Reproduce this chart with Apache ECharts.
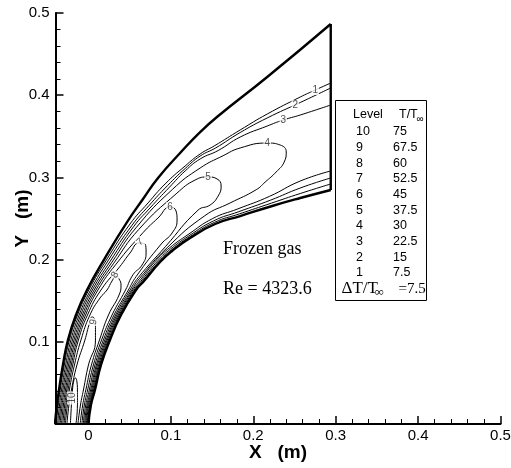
<!DOCTYPE html>
<html>
<head>
<meta charset="utf-8">
<script src="https://cdn.jsdelivr.net/npm/echarts@6/dist/echarts.min.js"></script>
<style>
html, body { margin: 0; padding: 0; background: #fff; }
#main { width: 511px; height: 468px; }
</style>
</head>
<body>
<div id="main"></div>
<script>
// geometry, x / y in metres
var shock = [[-0.0407,0],[-0.0383,0.0231],[-0.0358,0.0414],[-0.0310,0.0718],[-0.0249,0.1022],[-0.0152,0.1326],[-0.0018,0.1630],[0.0200,0.2019],[0.0468,0.2457],[0.0662,0.2737],[0.0844,0.2993],[0.1112,0.3297],[0.1355,0.3552],[0.1574,0.3747],[0.2169,0.4221],[0.294,0.4866]];
var body = [[0,0],[0.0030,0.0231],[0.0079,0.0414],[0.0152,0.0718],[0.0261,0.1022],[0.0395,0.1326],[0.0577,0.1630],[0.0674,0.1740],[0.0869,0.1971],[0.1015,0.2105],[0.1233,0.2263],[0.1537,0.2433],[0.1841,0.2530],[0.2230,0.2652],[0.2570,0.2749],[0.294,0.2847]];
var outlet = [[0.294,0.2847],[0.294,0.4866]];

// contour lines, shock side and body side legs
var level1Shock = [[0.294,0.4148],[0.2752,0.4063],[0.2570,0.3978],[0.2169,0.3771],[0.1841,0.3577],[0.1525,0.3382],[0.1355,0.3285],[0.1173,0.3139],[0.0930,0.2920],[0.0723,0.2689],[0.0504,0.2433],[0.0225,0.2007],[0.0004,0.1630],[-0.0132,0.1326],[-0.0231,0.1022],[-0.0293,0.0718],[-0.0343,0.0414],[-0.0367,0.0231],[-0.0391,0]];
var level2Shock = [[0.294,0.4088],[0.2570,0.3911],[0.2169,0.3723],[0.1841,0.3546],[0.1543,0.3358],[0.1355,0.3260],[0.1173,0.3108],[0.0959,0.2900],[0.0735,0.2658],[0.0529,0.2418],[0.0243,0.1994],[0.0026,0.1630],[-0.0113,0.1326],[-0.0213,0.1022],[-0.0276,0.0718],[-0.0327,0.0414],[-0.0351,0.0231],[-0.0375,0]];
var level3Shock = [[0.294,0.3881],[0.2570,0.3759],[0.2363,0.3698],[0.2169,0.3625],[0.1841,0.3491],[0.1574,0.3327],[0.1355,0.3224],[0.1173,0.3078],[0.0983,0.2881],[0.0747,0.2628],[0.0550,0.2404],[0.0265,0.1982],[0.0047,0.1630],[-0.0094,0.1326],[-0.0194,0.1022],[-0.0259,0.0718],[-0.0311,0.0414],[-0.0335,0.0231],[-0.0360,0]];
var level1Body = [[-0.0007,0],[0.0023,0.0231],[0.0070,0.0414],[0.0143,0.0718],[0.0252,0.1022],[0.0385,0.1326],[0.0566,0.1630],[0.0662,0.1747],[0.0859,0.1982],[0.1006,0.2117],[0.1226,0.2275],[0.1529,0.2453],[0.1832,0.2556],[0.2220,0.2687],[0.2570,0.2804],[0.294,0.2920]];
var level2Body = [[-0.0016,0],[0.0015,0.0231],[0.0062,0.0414],[0.0134,0.0718],[0.0241,0.1022],[0.0373,0.1326],[0.0554,0.1630],[0.0650,0.1753],[0.0848,0.1993],[0.0996,0.2129],[0.1218,0.2288],[0.1520,0.2472],[0.1824,0.2583],[0.2209,0.2723],[0.2570,0.2871],[0.294,0.2993]];
var level3Body = [[-0.0026,0],[0.0005,0.0231],[0.0051,0.0414],[0.0123,0.0718],[0.0228,0.1022],[0.0360,0.1326],[0.0539,0.1630],[0.0637,0.1762],[0.0836,0.2007],[0.0985,0.2144],[0.1208,0.2304],[0.1508,0.2500],[0.1813,0.2617],[0.2196,0.2769],[0.2570,0.2956],[0.294,0.3078]];
var level4 = [[-0.0344,0],[-0.0320,0.0231],[-0.0295,0.0414],[-0.0242,0.0718],[-0.0176,0.1022],[-0.0074,0.1326],[0.0069,0.1630],[0.0286,0.1970],[0.0577,0.2387],[0.1018,0.2853],[0.1355,0.3114],[0.1634,0.3264],[0.1841,0.3358],[0.2169,0.3418],[0.2327,0.3394],[0.2400,0.3309],[0.2375,0.3187],[0.2278,0.3066],[0.2145,0.2944],[0.2035,0.2850],[0.1719,0.2689],[0.1412,0.2534],[0.0954,0.2144],[0.0620,0.1771],[0.0524,0.1630],[0.0345,0.1326],[0.0215,0.1022],[0.0109,0.0718],[0.0039,0.0414],[-0.0006,0.0231],[-0.0036,0]];
var level5 = [[-0.0328,0],[-0.0304,0.0231],[-0.0279,0.0414],[-0.0225,0.0718],[-0.0158,0.1022],[-0.0055,0.1326],[0.0091,0.1630],[0.0307,0.1956],[0.0610,0.2366],[0.1073,0.2808],[0.1294,0.2968],[0.1452,0.3005],[0.1561,0.2981],[0.1610,0.2895],[0.1574,0.2774],[0.1476,0.2664],[0.1329,0.2601],[0.0933,0.2157],[0.0604,0.1781],[0.0505,0.1630],[0.0329,0.1326],[0.0199,0.1022],[0.0096,0.0718],[0.0026,0.0414],[-0.0018,0.0231],[-0.0049,0]];
var level6 = [[-0.0312,0],[-0.0288,0.0231],[-0.0264,0.0414],[-0.0208,0.0718],[-0.0140,0.1022],[-0.0035,0.1326],[0.0115,0.1630],[0.0333,0.1942],[0.0665,0.2331],[0.0844,0.2506],[0.0990,0.2640],[0.1063,0.2591],[0.1075,0.2482],[0.1015,0.2324],[0.0883,0.2190],[0.0580,0.1796],[0.0484,0.1630],[0.0310,0.1326],[0.0181,0.1022],[0.0079,0.0718],[0.0010,0.0414],[-0.0033,0.0231],[-0.0063,0]];
var level7 = [[-0.0296,0],[-0.0272,0.0231],[-0.0248,0.0414],[-0.0191,0.0718],[-0.0122,0.1022],[-0.0012,0.1326],[0.0152,0.1630],[0.0380,0.1914],[0.0504,0.2080],[0.0614,0.2202],[0.0687,0.2190],[0.0699,0.2080],[0.0650,0.1934],[0.0542,0.1818],[0.0450,0.1630],[0.0286,0.1326],[0.0159,0.1022],[0.0060,0.0718],[-0.0010,0.0414],[-0.0050,0.0231],[-0.0080,0]];
var level8 = [[-0.0281,0],[-0.0256,0.0231],[-0.0232,0.0414],[-0.0170,0.0718],[-0.0091,0.1022],[0.0018,0.1326],[0.0140,0.1533],[0.0225,0.1630],[0.0286,0.1740],[0.0334,0.1800],[0.0371,0.1764],[0.0395,0.1691],[0.0371,0.1569],[0.0243,0.1326],[0.0134,0.1022],[0.0036,0.0718],[-0.0032,0.0414],[-0.0070,0.0231],[-0.0101,0]];
var level9 = [[-0.0261,0],[-0.0237,0.0231],[-0.0207,0.0414],[-0.0140,0.0718],[-0.0043,0.1022],[0.0006,0.1204],[0.0043,0.1302],[0.0067,0.1290],[0.0085,0.1204],[0.0085,0.1022],[0.0000,0.0718],[-0.0061,0.0414],[-0.0097,0.0231],[-0.0128,0]];
var level10 = [[-0.0219,0],[-0.0207,0.0231],[-0.0194,0.0414],[-0.0176,0.0535],[-0.0158,0.0560],[-0.0140,0.0511],[-0.0134,0.0414],[-0.0134,0.0231],[-0.0152,0]];

// contour labels [x, y, text]
var contourLabels = [[0.2752,0.4063,'1'],[0.2509,0.3882,'2'],[0.2363,0.3698,'3'],[0.2169,0.3418,'4'],[0.1452,0.3005,'5'],[0.0990,0.2640,'6'],[0.0626,0.2214,'7'],[0.0322,0.1813,'8'],[0.0061,0.1241,'9'],[-0.0200,0.0316,'10']];
var labelAngles = [0, 0, 0, 0, 0, 0, 40, 60, 80, 90];

// legend table
var levelNumbers = ['10','9','8','7','6','5','4','3','2','1'];
var levelValues = ['75','67.5','60','52.5','45','37.5','30','22.5','15','7.5'];
var deltaValue = '=7.5';

var sans = '"Liberation Sans", Arial, sans-serif';
var serif = '"Liberation Serif", "Times New Roman", serif';

var myChart = echarts.init(document.getElementById('main'));

function thinLine(data) {
    return {
        type: 'line', data: data, xAxisIndex: 0, yAxisIndex: 0,
        showSymbol: false, smooth: 0.5, silent: true,
        lineStyle: {color: '#000', width: 1}
    };
}
function thickLine(data, smooth) {
    return {
        type: 'line', data: data, xAxisIndex: 0, yAxisIndex: 0,
        showSymbol: false, smooth: smooth, silent: true, z: 3,
        lineStyle: {color: '#000', width: 2.4}
    };
}

var series = [
    thinLine(level1Shock), thinLine(level2Shock), thinLine(level3Shock),
    thinLine(level1Body), thinLine(level2Body), thinLine(level3Body),
    thinLine(level4), thinLine(level5), thinLine(level6), thinLine(level7),
    thinLine(level8), thinLine(level9), thinLine(level10),
    thickLine(shock, 0.5), thickLine(body, 0.5), thickLine(outlet, false)
];

series.push({
    type: 'scatter', xAxisIndex: 0, yAxisIndex: 0, z: 5, silent: true,
    symbolSize: 0, itemStyle: {color: 'rgba(0,0,0,0)'},
    data: contourLabels.map(function (d, i) {
        return {value: d, label: {rotate: labelAngles[i]}};
    }),
    label: {
        show: true, position: 'inside',
        formatter: function (p) { return p.value[2]; },
        fontFamily: sans, fontSize: 10, color: '#222',
        backgroundColor: '#fff', padding: [0, 1]
    }
});

// legend box
var graphics = [{
    type: 'rect', shape: {x: 335.5, y: 100.5, width: 91, height: 200},
    style: {fill: '#fff', stroke: '#000', lineWidth: 1}, z: 10
}, {
    type: 'text', x: 353, y: 115, z: 11,
    style: {text: 'Level', fontFamily: sans, fontSize: 12.5, fill: '#000', verticalAlign: 'middle'}
}, {
    type: 'text', x: 399, y: 115, z: 11,
    style: {text: 'T/T', fontFamily: sans, fontSize: 12.5, fill: '#000', verticalAlign: 'middle'}
}, {
    type: 'text', x: 416.5, y: 119, z: 11,
    style: {text: '\u221e', fontFamily: sans, fontSize: 10, fill: '#000', verticalAlign: 'middle'}
}];
levelNumbers.forEach(function (n, i) {
    var y = 131.7 + i * 15.7;
    graphics.push({type: 'text', x: 356, y: y, z: 11,
        style: {text: n, fontFamily: sans, fontSize: 12.5, fill: '#000', verticalAlign: 'middle'}});
    graphics.push({type: 'text', x: 393, y: y, z: 11,
        style: {text: levelValues[i], fontFamily: sans, fontSize: 12.5, fill: '#000', verticalAlign: 'middle'}});
});
graphics.push({type: 'text', x: 341.5, y: 289, z: 11,
    style: {text: '\u0394T/T', fontFamily: serif, fontSize: 17, fill: '#000', verticalAlign: 'middle'}});
graphics.push({type: 'text', x: 374.5, y: 293, z: 11,
    style: {text: '\u221e', fontFamily: serif, fontSize: 13, fill: '#000', verticalAlign: 'middle'}});
graphics.push({type: 'text', x: 398.5, y: 289, z: 11,
    style: {text: deltaValue, fontFamily: serif, fontSize: 15, fill: '#000', verticalAlign: 'middle'}});
graphics.push({type: 'text', x: 223, y: 249, z: 11,
    style: {text: 'Frozen gas', fontFamily: serif, fontSize: 18, fill: '#000', verticalAlign: 'middle'}});
graphics.push({type: 'text', x: 223, y: 289, z: 11,
    style: {text: 'Re = 4323.6', fontFamily: serif, fontSize: 18, fill: '#000', verticalAlign: 'middle'}});

var option = {
    animation: false,
    backgroundColor: '#fff',
    grid: [
        {left: 55.5, top: 13, width: 445, height: 411, containLabel: false, outerBoundsMode: 'none'},
        {left: 88.46, top: 13, width: 412.04, height: 411, containLabel: false, outerBoundsMode: 'none'}
    ],
    xAxis: [{
        gridIndex: 0, type: 'value', min: -0.04, max: 0.5,
        axisLine: {show: true, onZero: false, lineStyle: {color: '#000', width: 2}},
        axisTick: {show: false}, axisLabel: {show: false}, splitLine: {show: false},
        name: 'X   (m)', nameLocation: 'middle', nameGap: 19,
        nameTextStyle: {fontFamily: sans, fontSize: 19, fontWeight: 'bold', color: '#000'}
    }, {
        gridIndex: 1, type: 'value', min: 0, max: 0.5, interval: 0.1,
        axisLine: {show: false},
        axisTick: {show: true, inside: true, length: 8, lineStyle: {color: '#000', width: 1.5}},
        minorTick: {show: true, splitNumber: 5, length: 5, lineStyle: {color: '#000', width: 1}},
        axisLabel: {
            margin: 4, fontFamily: sans, fontSize: 15, color: '#000',
            formatter: function (v) { return v === 0 ? '0' : v.toFixed(1); }
        },
        splitLine: {show: false}
    }],
    yAxis: [{
        gridIndex: 0, type: 'value', min: 0, max: 0.5, interval: 0.1,
        axisLine: {show: true, onZero: false, lineStyle: {color: '#000', width: 2}},
        axisTick: {show: true, inside: true, length: 8, lineStyle: {color: '#000', width: 1.5}},
        minorTick: {show: true, splitNumber: 5, length: 5, lineStyle: {color: '#000', width: 1}},
        axisLabel: {
            margin: 6, fontFamily: sans, fontSize: 15, color: '#000',
            formatter: function (v) { return v === 0 ? '' : v.toFixed(1); }
        },
        splitLine: {show: false},
        name: 'Y   (m)', nameLocation: 'middle', nameGap: 23, nameRotate: 90,
        nameMoveOverlap: false,
        nameTextStyle: {fontFamily: sans, fontSize: 19, fontWeight: 'bold', color: '#000'}
    }, {
        gridIndex: 1, type: 'value', min: 0, max: 0.5, show: false
    }],
    series: series,
    graphic: graphics
};

myChart.setOption(option);
</script>
</body>
</html>
